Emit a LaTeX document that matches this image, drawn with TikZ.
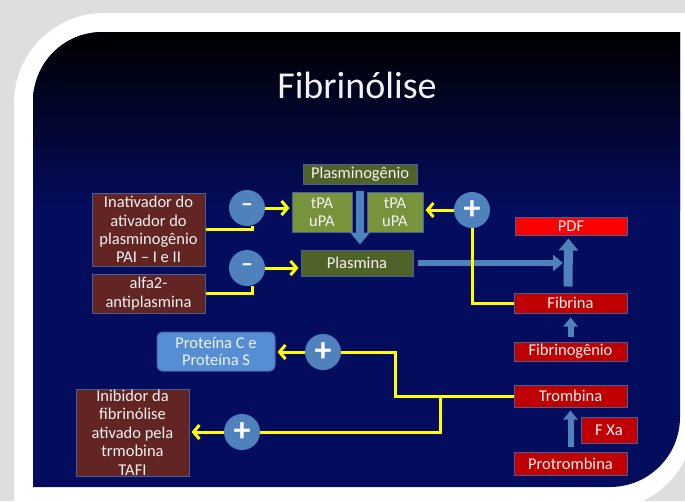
\documentclass[tikz,border=0pt]{standalone}
\usepackage{fontspec}
\setmainfont{Carlito}
\usetikzlibrary{arrows.meta}
\definecolor{navy}{HTML}{040C5E}
\definecolor{bggray}{HTML}{DEDEDE}
\definecolor{maroon}{HTML}{632523}
\definecolor{olivedark}{HTML}{4F6228}
\definecolor{olivelight}{HTML}{77933C}
\definecolor{redbright}{HTML}{FF0000}
\definecolor{reddark}{HTML}{C00000}
\definecolor{circblue}{HTML}{4F81BD}
\definecolor{protblue}{HTML}{558ED5}
\definecolor{arrblue}{HTML}{4F81BD}
\definecolor{boxline}{HTML}{4A5F94}
\definecolor{yel}{HTML}{FFFF00}
\definecolor{txt}{HTML}{F2F2F2}
\begin{document}
\begin{tikzpicture}[x=1pt,y=-1pt,
  box/.style={draw=boxline, line width=1pt, text=txt, inner sep=0pt, align=center,
    font=\fontsize{16.5}{18.3}\selectfont},
  maroonbox/.style={box, fill=maroon},
  olivebox/.style={box, fill=olivedark},
  tpabox/.style={box, fill=olivelight},
  redbox/.style={box, fill=reddark},
  sign/.style={circle, fill=circblue, minimum size=36pt, inner sep=0pt, text=white},
  yl/.style={draw=yel, line width=3pt},
  yarrow/.style={yl, -{Straight Barb[length=6pt,width=14pt]}},
  barrow/.style={draw=arrblue, line width=8pt, -{Triangle[length=12pt,width=19pt]}},
  sbarrow/.style={draw=arrblue, line width=6pt, -{Triangle[length=9pt,width=14pt]}}
]
\useasboundingbox (0,0) rectangle (685,501);
% background
\fill[bggray] (0,0) rectangle (685,501);
\fill[white] (14,103) .. controls (14,53.3) and (54.3,13) .. (104,13) -- (695,13) -- (695,418)
  .. controls (695,468.8) and (653.8,510) .. (603,510) -- (14,510) -- cycle;
\begin{scope}
\clip (33,102) .. controls (33,63.3) and (63.3,32) .. (103,32) -- (680,32) -- (680,417)
  .. controls (680,455.7) and (648.7,487) .. (610,487) -- (33,487) -- cycle;
\fill[navy] (0,0) rectangle (685,501);
\shade[top color=black, bottom color=navy] (0,32) rectangle (685,210);
\end{scope}
% title
\node[anchor=base, text=txt, font=\fontsize{38}{40}\selectfont] (title) at (357,98) {Fibrinólise};
% boxes
\node[maroonbox, minimum width=113pt, minimum height=73pt] (pai) at (148.5,229.5)
  {Inativador do\\ativador do\\plasminogênio\\PAI -- I e II};
\node[maroonbox, minimum width=113pt, minimum height=39pt] (alfa) at (148.5,293.5)
  {alfa2-\\antiplasmina};
\node[olivebox, minimum width=114pt, minimum height=20pt] (plg) at (360,174) {Plasminogênio};
\node[tpabox, minimum width=60pt, minimum height=40pt] (tpa1) at (322,212) {tPA\\uPA};
\node[tpabox, minimum width=56pt, minimum height=40pt] (tpa2) at (395,212) {tPA\\uPA};
\node[olivebox, minimum width=112pt, minimum height=26pt] (plm) at (357,263) {Plasmina};
\node[box, fill=redbright, minimum width=112pt, minimum height=18pt] (pdf) at (571,226) {PDF};
\node[redbox, minimum width=113pt, minimum height=20pt] (fib) at (570.5,303) {Fibrina};
\node[redbox, minimum width=113pt, minimum height=19pt] (fbg) at (570.5,351.5) {Fibrinogênio};
\node[redbox, minimum width=113pt, minimum height=22pt] (trom) at (570.5,396) {Trombina};
\node[redbox, minimum width=56pt, minimum height=26pt] (fxa) at (609,430) {F Xa};
\node[redbox, minimum width=113pt, minimum height=23pt] (prot) at (570.5,463.5) {Protrombina};
\node[box, fill=protblue, rounded corners=5pt, minimum width=118pt, minimum height=39pt,
  font=\fontsize{16.5}{17.7}\selectfont] (prots) at (216,351.5) {Proteína C e\\Proteína S};
\node[maroonbox, minimum width=113pt, minimum height=87pt, font=\fontsize{16.5}{18.4}\selectfont]
  (tafi) at (132.5,432.5) {Inibidor da\\fibrinólise\\ativado pela\\trmobina\\TAFI};
% sign circles
\node[sign, font=\fontsize{24}{24}\selectfont\bfseries] (m1) at (247,208) {\raisebox{-1.5pt}{--}};
\node[sign, font=\fontsize{24}{24}\selectfont\bfseries] (m2) at (247,268) {\raisebox{-1.5pt}{--}};
\node[sign, font=\fontsize{34}{34}\selectfont\bfseries] (p1) at (472,210) {+};
\node[sign, font=\fontsize{34}{34}\selectfont\bfseries] (p2) at (323,352) {+};
\node[sign, font=\fontsize{34}{34}\selectfont\bfseries] (p3) at (242,432) {+};
% junction coordinates
\coordinate (ja) at (395,396);
\coordinate (jb) at (440,396);
\coordinate (pend) at (563,263);
% blue arrows
\draw[barrow, shorten <=6pt, shorten >=5pt] (plg.south) -- (plg.south |- plm.north);
\draw[draw=arrblue, line width=6pt, -{Triangle[length=10pt,width=16pt]}, shorten <=4pt] (plm.east) -- (pend);
\draw[barrow, line width=9pt, shorten <=6pt, shorten >=3pt] ([xshift=-2.5pt]fib.north) -- ([xshift=-2.5pt]pdf.south);
\draw[sbarrow, shorten <=5pt, shorten >=4pt] (fbg.north) -- (fib.south);
\draw[sbarrow, shorten <=5pt, shorten >=3pt] (prot.north) -- (trom.south);
% yellow connectors
\draw[yl] (pai.east) -| ([xshift=5pt]m1.south);
\draw[yl] (alfa.east) -| ([xshift=5pt]m2.south);
\draw[yarrow, shorten >=2pt] (m1.east) -- (m1.east -| tpa1.west);
\draw[yarrow, shorten >=2pt] (m2.east) -- (m2.east -| plm.west);
\draw[yarrow, shorten >=2pt] (p1.west) -- (p1.west -| tpa2.east);
\draw[yl] (fib.west) -| (p1.south);
\draw[yl] (trom.west) -- (ja) |- (p2.east);
\draw[yl] (jb) |- (p3.east);
\draw[yarrow, shorten >=2pt] (p2.west) -- (p2.west -| prots.east);
\draw[yarrow, shorten >=2pt] (p3.west) -- (p3.west -| tafi.east);
\end{tikzpicture}
\end{document}
